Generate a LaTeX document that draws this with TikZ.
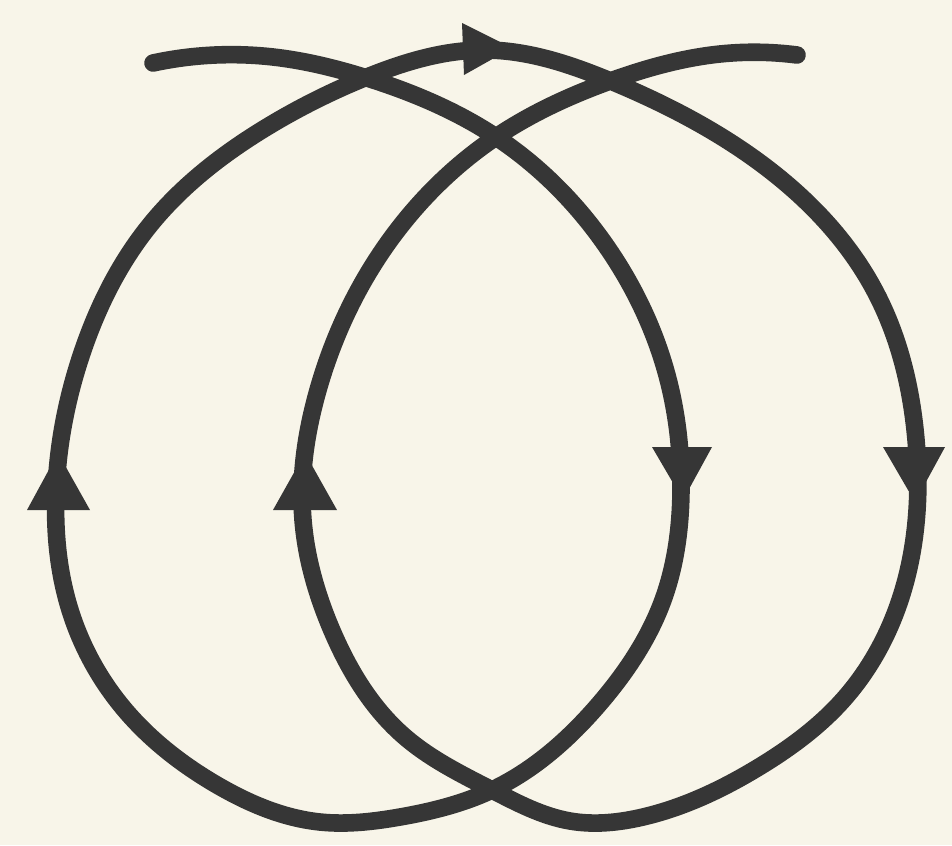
\documentclass[tikz,border=0pt]{standalone}
\usetikzlibrary{hobby}
\definecolor{paper}{HTML}{F8F5E9}
\definecolor{ink}{HTML}{363636}
\tikzset{
  curve/.style={draw=ink, line width=5pt, line cap=round, line join=round},
  head/.style={fill=ink}
}
\begin{document}
\begin{tikzpicture}[x=0.01cm,y=-0.01cm]
\fill[paper] (0,0) rectangle (952,845);
\useasboundingbox (0,0) rectangle (952,845);
% one continuous path
\draw[curve, use Hobby shortcut]
 (153,63) .. (273,57) .. (367,78) .. (496,137) .. (609,250) .. (669,383) .. (681,490)
 .. (663,600) .. (600,703) .. (492,790) .. (400,817) .. (320,822) .. (217,785) .. (125,710)
 .. (70,610) .. (56,490) .. (83,350) .. (150,225) .. (267,127) .. (367,77) .. (485,50)
 .. (613,82) .. (759,162) .. (876,293) .. (916,440) .. (900,600) .. (843,700) .. (759,767)
 .. (643,817) .. (570,821) .. (492,790) .. (405,737) .. (333,633) .. (303,520) .. (318,390)
 .. (383,250) .. (496,137) .. (613,80) .. (720,54) .. (797,55);
% arrowheads
\fill[head] (462,23) -- (512,48) -- (464,75) -- cycle;
\fill[head] (652,447) -- (712,447) -- (683,500) -- cycle;
\fill[head] (883,447) -- (945,447) -- (915,502) -- cycle;
\fill[head] (27,510) -- (90,510) -- (58,453) -- cycle;
\fill[head] (273,510) -- (337,510) -- (305,453) -- cycle;
\end{tikzpicture}
\end{document}
